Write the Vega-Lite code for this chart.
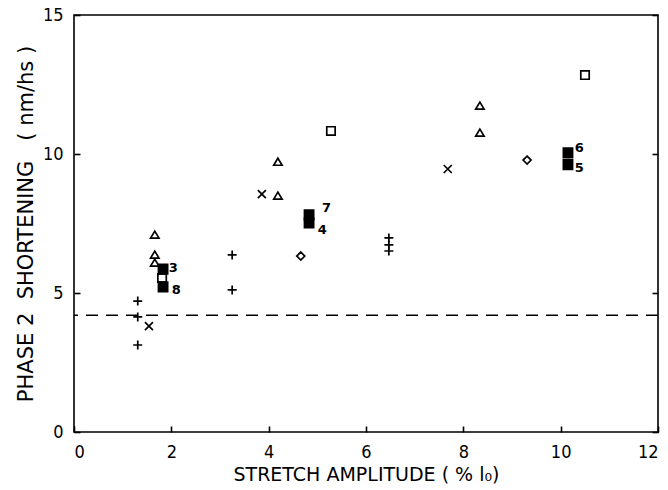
{
  "$schema": "https://vega.github.io/schema/vega-lite/v6.json",
  "width": 584,
  "height": 417,
  "autosize": "none",
  "padding": {"left": 74, "top": 15, "right": 10, "bottom": 58},
  "background": "white",
  "config": {
    "view": {"stroke": "black", "strokeWidth": 1.6},
    "font": "DejaVu Sans Condensed",
    "axis": {
      "domain": false,
      "grid": false,
      "ticks": true, "tickColor": "black", "tickWidth": 1.6, "tickSize": -6,
      "labelColor": "black", "labelFont": "DejaVu Sans Condensed", "labelFontSize": 18,
      "titleColor": "black", "titleFont": "DejaVu Sans", "titleFontWeight": "normal"
    }
  },
  "datasets": {
    "pts": [
      {"sym": "plus", "amp": 1.31, "short": 4.71},
      {"sym": "plus", "amp": 1.31, "short": 4.14},
      {"sym": "plus", "amp": 1.31, "short": 3.13},
      {"sym": "plus", "amp": 3.25, "short": 6.37},
      {"sym": "plus", "amp": 3.25, "short": 5.11},
      {"sym": "plus", "amp": 6.47, "short": 6.98},
      {"sym": "plus", "amp": 6.47, "short": 6.73},
      {"sym": "plus", "amp": 6.47, "short": 6.51},
      {"sym": "cross", "amp": 1.54, "short": 3.81},
      {"sym": "cross", "amp": 3.86, "short": 8.56},
      {"sym": "cross", "amp": 7.68, "short": 9.46},
      {"sym": "triangle", "amp": 1.66, "short": 7.09},
      {"sym": "triangle", "amp": 1.66, "short": 6.37},
      {"sym": "triangle", "amp": 1.66, "short": 6.08},
      {"sym": "triangle", "amp": 4.19, "short": 9.71},
      {"sym": "triangle", "amp": 4.19, "short": 8.49},
      {"sym": "triangle", "amp": 8.34, "short": 11.73},
      {"sym": "triangle", "amp": 8.34, "short": 10.76},
      {"sym": "open square", "amp": 1.81, "short": 5.54},
      {"sym": "open square", "amp": 5.28, "short": 10.83},
      {"sym": "open square", "amp": 10.5, "short": 12.84},
      {"sym": "filled square", "amp": 1.83, "short": 5.86},
      {"sym": "filled square", "amp": 1.83, "short": 5.22},
      {"sym": "filled square", "amp": 4.83, "short": 7.81},
      {"sym": "filled square", "amp": 4.83, "short": 7.52},
      {"sym": "filled square", "amp": 10.15, "short": 10.04},
      {"sym": "filled square", "amp": 10.15, "short": 9.62},
      {"sym": "diamond", "amp": 4.66, "short": 6.33},
      {"sym": "diamond", "amp": 9.31, "short": 9.78}
    ],
    "labels": [
      {"label": "3", "amp": 2.04, "short": 5.90},
      {"label": "8", "amp": 2.10, "short": 5.11},
      {"label": "7", "amp": 5.19, "short": 8.06},
      {"label": "4", "amp": 5.10, "short": 7.27},
      {"label": "6", "amp": 10.38, "short": 10.23},
      {"label": "5", "amp": 10.38, "short": 9.5}
    ]
  },
  "resolve": {"axis": {"y": "independent"}},
  "layer": [
    {
      "data": {"values": [{}]},
      "mark": {"type": "rule", "stroke": "black", "strokeWidth": 1.5, "strokeDash": [12, 8]},
      "encoding": {
        "y": {"datum": 4.2, "type": "quantitative", "scale": {"domain": [0, 15], "nice": false}, "axis": null}
      }
    },
    {
      "data": {"name": "pts"},
      "mark": {"type": "point", "filled": false, "stroke": "black", "strokeWidth": 1.7, "opacity": 1, "size": 100},
      "encoding": {
        "x": {
          "field": "amp", "type": "quantitative",
          "scale": {"domain": [0, 12], "nice": false},
          "axis": {"values": [0, 2, 4, 6, 8, 10, 12], "labelPadding": 17, "title": "STRETCH AMPLITUDE  ( % l₀)", "titleFontSize": 19, "titlePadding": 4}
        },
        "y": {
          "field": "short", "type": "quantitative",
          "scale": {"domain": [0, 15], "nice": false},
          "axis": {"orient": "left", "values": [0, 5, 10, 15], "labelPadding": 17, "title": "PHASE\u00a02\u00a0\u00a0SHORTENING\u00a0\u00a0\u00a0(\u00a0nm/hs\u00a0)", "titleFontSize": 21, "titlePadding": 6}
        },
        "shape": {
          "field": "sym", "type": "nominal", "legend": null,
          "scale": {
            "domain": ["plus", "cross", "triangle", "open square", "filled square", "diamond"],
            "range": [
              "M-0.9,0H0.9M0,-0.9V0.9",
              "M-0.8,-0.8L0.8,0.8M-0.8,0.8L0.8,-0.8",
              "M0,-0.76L0.84,0.64L-0.84,0.64Z",
              "M-0.84,-0.84H0.84V0.84H-0.84Z",
              "M-0.92,-0.96H0.92V0.96H-0.92Z",
              "M0,-0.8L0.8,0L0,0.8L-0.8,0Z"
            ]
          }
        },
        "fill": {
          "field": "sym", "type": "nominal", "legend": null,
          "scale": {
            "domain": ["plus", "cross", "triangle", "open square", "filled square", "diamond"],
            "range": ["white", "white", "white", "white", "black", "white"]
          }
        }
      }
    },
    {
      "data": {"name": "labels"},
      "mark": {"type": "text", "font": "DejaVu Sans", "fontWeight": "bold", "fontSize": 13, "color": "black", "baseline": "middle", "align": "center"},
      "encoding": {
        "x": {"field": "amp", "type": "quantitative"},
        "y": {
          "field": "short", "type": "quantitative",
          "axis": {"orient": "right", "values": [0, 5, 10, 15], "labels": false, "title": null}
        },
        "text": {"field": "label"}
      }
    }
  ]
}
